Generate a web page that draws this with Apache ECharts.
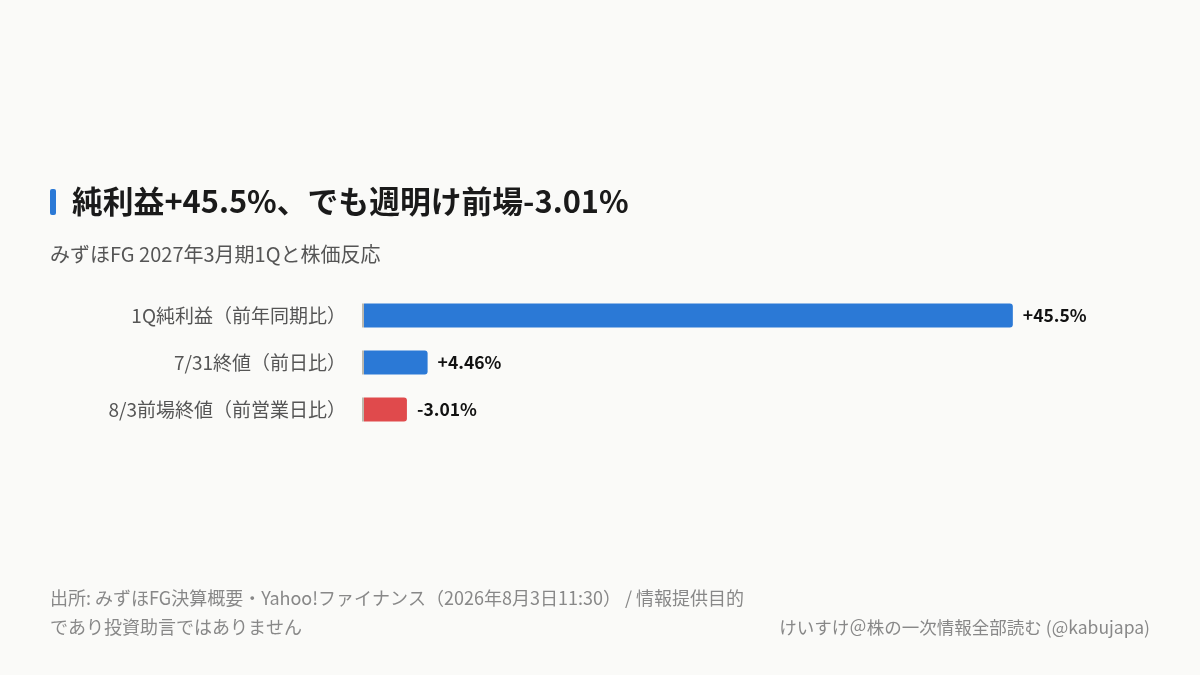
<!DOCTYPE html>
<html><head><meta charset="utf-8">
<script src="https://cdn.jsdelivr.net/npm/echarts@6/dist/echarts.min.js"></script>
<style>html,body{margin:0;padding:0;background:#fafaf8;}#c{width:1200px;height:675px;}</style>
</head><body><div id="c"></div>
<script>
const categories = ['1Q純利益（前年同期比）', '7/31終値（前日比）', '8/3前場終値（前営業日比）'];
const values = [45.5, 4.46, -3.01];
const valueLabels = ['+45.5%', '+4.46%', '-3.01%'];
const colors = ['#2b79d6', '#2b79d6', '#e04a4c'];
const FONT = '"Noto Sans CJK JP", "Noto Sans", sans-serif';

const AXIS_MAX = 50;
const GRID_LEFT = 362, GRID_W = 713;
const baseW = 2 * AXIS_MAX / GRID_W; // 2px grey start edge

const chart = echarts.init(document.getElementById('c'));
chart.setOption({
  backgroundColor: '#fafaf8',
  animation: false,
  textStyle: { fontFamily: FONT },
  title: [
    { text: '純利益+45.5%、でも週明け前場-3.01%', left: 67, top: 181,
      textStyle: { fontFamily: FONT, fontSize: 30.8, fontWeight: 'bold', color: '#1a1a1a' } },
    { text: 'みずほFG 2027年3月期1Qと株価反応', left: 45, top: 239,
      textStyle: { fontFamily: FONT, fontSize: 20, fontWeight: 'normal', color: '#555' } },
    { text: '出所: みずほFG決算概要・Yahoo!ファイナンス（2026年8月3日11:30） / 情報提供目的\nであり投資助言ではありません', left: 45, top: 579,
      textStyle: { fontFamily: FONT, fontSize: 18, fontWeight: 'normal', color: '#888', lineHeight: 29 } },
    { text: 'けいすけ＠株の一次情報全部読む (@kabujapa)', right: 45, top: 614,
      textStyle: { fontFamily: FONT, fontSize: 17.5, fontWeight: 'normal', color: '#888' } }
  ],
  graphic: [
    { type: 'rect', shape: { x: 50, y: 189, width: 6, height: 26, r: 2 }, style: { fill: '#2b79d6' } }
  ],
  grid: { left: GRID_LEFT, width: GRID_W, top: 292, height: 141, containLabel: false },
  xAxis: { type: 'value', min: 0, max: AXIS_MAX, show: false },
  yAxis: {
    type: 'category', inverse: true, data: categories,
    axisLine: { show: false },
    axisTick: { show: false },
    axisLabel: { fontFamily: FONT, fontSize: 19, color: '#555', margin: 16 }
  },
  series: [{
    type: 'bar', stack: 's', barWidth: 24, silent: true,
    data: categories.map(() => baseW),
    itemStyle: { color: '#bdb9ae' }
  }, {
    type: 'bar', stack: 's', barWidth: 24,
    data: values.map((v, i) => ({
      value: Math.abs(v),
      itemStyle: { color: colors[i], borderRadius: [0, 3, 3, 0] },
      label: { formatter: valueLabels[i] }
    })),
    label: { show: true, position: 'right', distance: 10, fontFamily: FONT, fontSize: 17.5, fontWeight: 'bold', color: '#111' }
  }]
});
</script></body></html>
